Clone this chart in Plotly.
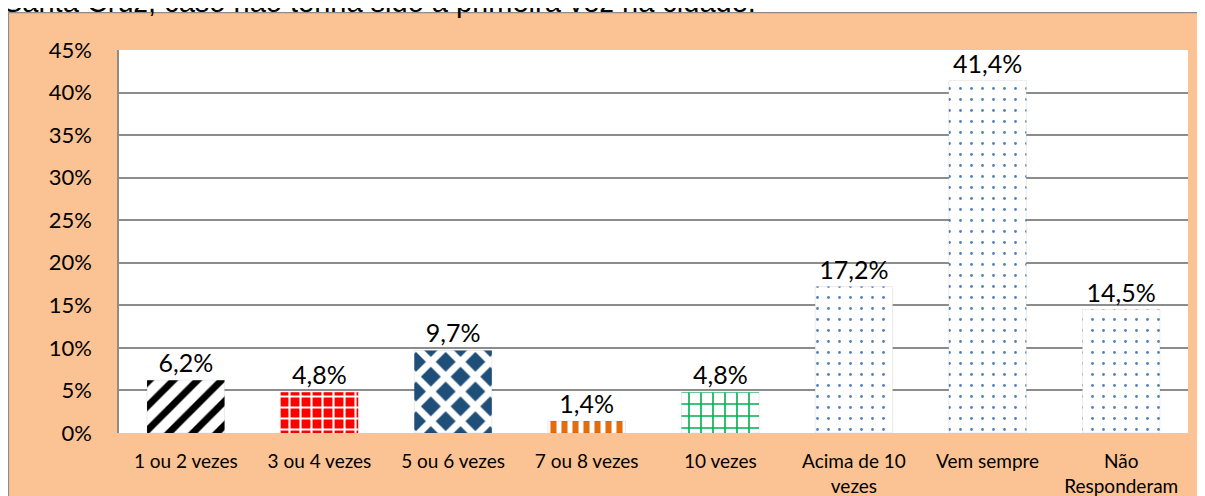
import plotly.graph_objects as go

categories = ["1 ou 2 vezes", "3 ou 4 vezes", "5 ou 6 vezes", "7 ou 8 vezes",
              "10 vezes", "Acima de 10<br>vezes", "Vem sempre", "Não<br>Responderam"]
values = [6.2, 4.8, 9.7, 1.4, 4.8, 17.2, 41.4, 14.5]
y_ticks = [0, 5, 10, 15, 20, 25, 30, 35, 40, 45]

labels = [f"{v:.1f}%".replace(".", ",") for v in values]
y_labels = [f"{t}%" for t in y_ticks]

# pattern fills, one per bar (approximating the Excel textures)
pat_shape = ["/", "+", "x", "|", "+", ".", ".", "."]
pat_fg = ["black", "white", "white", "#E46C0A", "#00B050", "#4F81BD", "#4F81BD", "#4F81BD"]
pat_bg = ["white", "#FF0000", "#1F4E79", "white", "white", "white", "white", "white"]
pat_size = [17, 11, 21, 11, 12, 11, 11, 11]
pat_solid = [0.4, 0.35, 0.55, 0.55, 0.25, 0.05, 0.05, 0.05]

# the page body adds an 8px margin, so the figure is 8px smaller each way
W, H = 1197, 488
ml, mr, mt, mb = 111, 17, 42, 63
pw, ph = W - ml - mr, H - mt - mb

def px_x(x):
    return (x - ml) / pw

def px_y(y):
    return (H - mb - y) / ph

fig = go.Figure(go.Bar(
    x=categories, y=values,
    text=labels, textposition="outside", cliponaxis=False,
    textfont=dict(family="Lato", size=25, color="black"),
    marker=dict(
        pattern=dict(shape=pat_shape, fgcolor=pat_fg, bgcolor=pat_bg,
                     size=pat_size, solidity=pat_solid, fillmode="replace"),
        line=dict(color="rgba(0,0,0,0.08)", width=1),
    ),
    width=0.58,
))

fig.update_layout(
    width=W, height=H,
    margin=dict(l=ml, r=mr, t=mt, b=mb, autoexpand=False),
    paper_bgcolor="white", plot_bgcolor="white",
    showlegend=False,
    shapes=[
        dict(type="rect", xref="paper", yref="paper", layer="below",
             x0=px_x(0.5), x1=px_x(W + 20), y0=px_y(H + 20), y1=px_y(4.7),
             fillcolor="#FBC294", line=dict(color="#8C8C8C", width=1.2)),
        dict(type="rect", xref="paper", yref="paper", layer="below",
             x0=0, x1=1, y0=0, y1=1, fillcolor="white", line=dict(width=0)),
    ],
    # title line of the source page, cut off at the top as in the original
    annotations=[dict(
        text="Santa Cruz, caso não tenha sido a primeira vez na cidade.",
        xref="paper", yref="paper", x=px_x(-7), y=px_y(12),
        xanchor="left", yanchor="bottom", showarrow=False,
        font=dict(family="Liberation Sans", size=29, color="black"),
    )],
)

fig.update_xaxes(
    tickfont=dict(family="Lato", size=19, color="black"),
    showline=False, showgrid=False, ticks="", ticklabelstandoff=15,
    automargin=False,
)
fig.update_yaxes(
    range=[0, 45], tickvals=y_ticks, ticktext=y_labels,
    tickfont=dict(family="Lato", size=22, color="black"),
    showgrid=True, gridcolor="#8C8C8C", gridwidth=1.5,
    showline=True, linecolor="#8C8C8C", linewidth=1.5,
    zeroline=False, ticks="", ticklabelstandoff=21, automargin=False,
)

fig.write_html("out.html")
